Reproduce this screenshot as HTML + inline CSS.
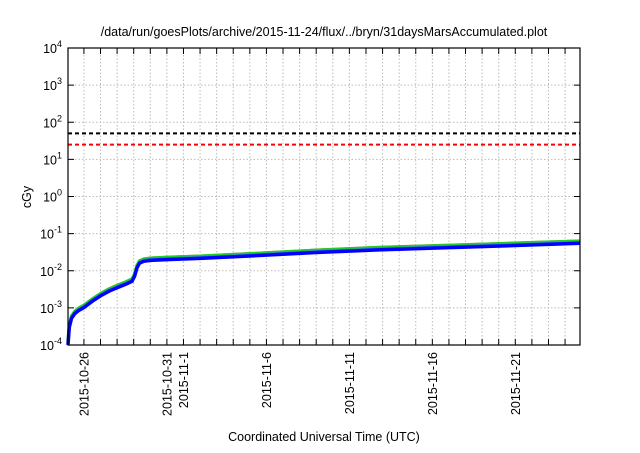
<!DOCTYPE html>
<html><head><meta charset="utf-8"><style>
body{margin:0;background:#fff;}
svg text{font-family:"Liberation Sans",Arial,sans-serif;fill:#000;}
</style></head><body>
<svg width="640" height="448" viewBox="0 0 640 448">
<g id="grid"></g>
<g id="refs"></g>
<g id="series"></g>
<rect x="68" y="48" width="512" height="297" fill="none" stroke="#000" stroke-width="1.2"/>
<g id="axes"></g>
<text x="324" y="36" font-size="12.5" text-anchor="middle">/data/run/goesPlots/archive/2015-11-24/flux/../bryn/31daysMarsAccumulated.plot</text>
<text x="324" y="441" font-size="12.5" text-anchor="middle">Coordinated Universal Time (UTC)</text>
<text transform="translate(31,197) rotate(-90)" font-size="12.5" text-anchor="middle">cGy</text>
</svg>
<script>
const yExps=[-4,-3,-2,-1,0,1,2,3,4];
const xLabels=["2015-10-26","2015-10-31","2015-11-1","2015-11-6","2015-11-11","2015-11-16","2015-11-21"];
const xLabelDays=[0,5,6,11,16,21,26];
const refValues=[50,25];
const refColors=["#000","#f00"];
const days=[-0.96,-0.88,-0.75,-0.55,-0.3,0,0.5,1,1.5,2,2.5,2.9,3.05,3.2,3.35,3.6,4,5,7,10,14,18,22,26,29.9];
const blue=[1e-4,3e-4,5.2e-4,7e-4,8.6e-4,1.02e-3,1.5e-3,2.1e-3,2.8e-3,3.5e-3,4.3e-3,5.2e-3,7e-3,1.2e-2,1.6e-2,1.8e-2,1.9e-2,2e-2,2.15e-2,2.5e-2,3.1e-2,3.7e-2,4.2e-2,4.8e-2,5.5e-2];
const factors=[1.22,1.14,1.07,1.0];
const colors=["#c87a3a","#22cc22","#1a8ad8","#0000ff"];
const widths=[1.5,3.5,2.5,3.5];
const X0=68,X1=580,Y0=345,Y1=48,dMin=-0.96,dMax=29.9;
const xs=d=>X0+(d-dMin)/(dMax-dMin)*(X1-X0);
const ys=v=>Y0-(Math.log10(v)+4)/8*(Y0-Y1);
const NS="http://www.w3.org/2000/svg";
function mk(t,a,p){const e=document.createElementNS(NS,t);for(const k in a)e.setAttribute(k,a[k]);p.appendChild(e);return e;}
const grid=document.getElementById('grid'),axes=document.getElementById('axes');
for(let d=0;xs(d)<X1-1;d++){const x=xs(d);
 const g=mk('line',{x1:x,x2:x,y1:Y1,y2:Y0,stroke:'#bbb','stroke-dasharray':'1.5,2'},grid);
 
 const t=mk('line',{x1:x,x2:x,y1:Y0,y2:Y0-6,stroke:'#000'},axes);
 
 const t2=mk('line',{x1:x,x2:x,y1:Y1,y2:Y1+6,stroke:'#000'},axes);
 }
yExps.forEach(e=>{const y=ys(Math.pow(10,e));
 if(e>-4&&e<4){const g=mk('line',{x1:X0,x2:X1,y1:y,y2:y,stroke:'#bbb','stroke-dasharray':'1.5,2'},grid);
 }
 const t=mk('line',{x1:X0,x2:X0+6,y1:y,y2:y,stroke:'#000'},axes);
 
 const t2=mk('line',{x1:X1-6,x2:X1,y1:y,y2:y,stroke:'#000'},axes);
 
 const tx=mk('text',{x:62,y:y+5,'font-size':12.5,'text-anchor':'end'},axes);
 
 tx.textContent='10';const s=mk('tspan',{dy:-6,'font-size':9},tx);s.textContent=String(e);});
xLabels.forEach((l,i)=>{const x=xs(xLabelDays[i]);
 const tx=mk('text',{transform:`translate(${x+4.5},352) rotate(-90)`,'font-size':12.5,'text-anchor':'end'},axes);
 tx.textContent=l;});
const refs=document.getElementById('refs');
refValues.forEach((v,i)=>{const y=ys(v);
 const l=mk('line',{x1:X0,x2:X1,y1:y,y2:y,stroke:refColors[i],'stroke-width':2,'stroke-dasharray':'4,3'},refs);
 });
const ser=document.getElementById('series');
factors.forEach((f,i)=>{const pts=days.map((d,j)=>xs(d).toFixed(1)+','+ys(blue[j]*f).toFixed(1)).join(' ');
 const p=mk('polyline',{points:pts,fill:'none',stroke:colors[i],'stroke-width':widths[i],'stroke-linejoin':'round'},ser);
 });
</script>
</body></html>
